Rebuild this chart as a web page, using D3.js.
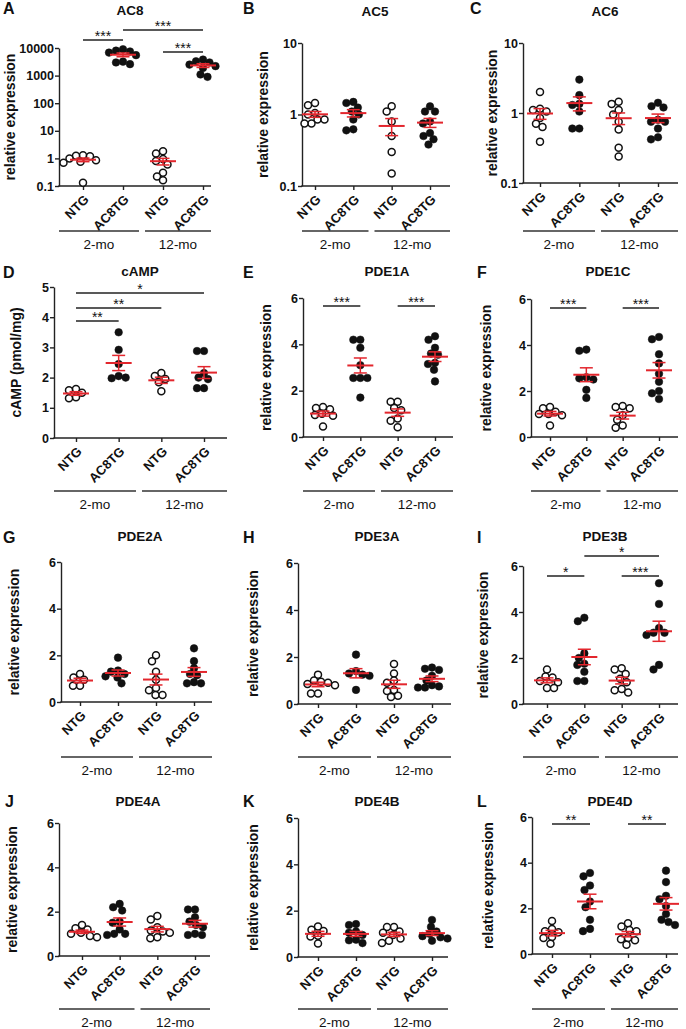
<!DOCTYPE html>
<html lang="en">
<head>
<meta charset="UTF-8">
<title>AC8TG expression panels</title>
<script src="https://cdn.jsdelivr.net/npm/d3@7"></script>
<style>
    body { margin: 0; background: #fff; }
    svg text { font-family: "Liberation Sans", Arial, sans-serif; fill: #111; }
    .letter { font-size: 16px; font-weight: bold; }
    .title { font-size: 13.5px; font-weight: bold; text-anchor: middle; }
    .ylab { font-size: 14px; font-weight: bold; text-anchor: middle; }
    .tick text { font-size: 12.5px; font-weight: bold; }
    .xaxis .tick text { font-size: 13px; }
    .age { font-size: 13.5px; text-anchor: middle; }
    .star { font-size: 14px; text-anchor: middle; }
</style>
</head>
<body>
<svg id="fig" width="686" height="1029"></svg>
<script>
    // categories
    const groups = ["NTG", "AC8TG", "NTG", "AC8TG"];
    const ages = ["2-mo", "12-mo"];

    // each panel: [NTG 2-mo, AC8TG 2-mo, NTG 12-mo, AC8TG 12-mo]
    const AC8 = [
        [1.3, 1.25, 1.2, 1.0, 0.85, 0.75, 0.7, 0.13],
        [9000, 8000, 7500, 6800, 5500, 3200, 3000, 2600],
        [1.8, 1.5, 0.95, 0.8, 0.6, 0.3, 0.22, 0.16],
        [3800, 3300, 3000, 2500, 2200, 1900, 1100, 900]
    ];
    const AC5 = [
        [1.45, 1.35, 1.05, 1.0, 0.85, 0.85, 0.75, 0.75],
        [1.5, 1.45, 1.25, 1.1, 1.0, 0.85, 0.62, 0.6],
        [1.3, 1.1, 0.8, 0.5, 0.3, 0.15],
        [1.3, 1.1, 1.1, 0.8, 0.75, 0.55, 0.5, 0.45, 0.38]
    ];
    const AC6 = [
        [2.0, 1.15, 1.1, 1.05, 0.85, 0.7, 0.63, 0.39],
        [3.0, 1.8, 1.35, 1.3, 1.05, 0.6, 0.6],
        [1.45, 1.35, 1.1, 0.95, 0.75, 0.58, 0.32, 0.24],
        [1.4, 1.25, 1.2, 0.8, 0.75, 0.75, 0.6, 0.45, 0.42]
    ];
    const cAMP = [
        [1.62, 1.58, 1.5, 1.35, 1.32],
        [3.5, 2.92, 2.45, 2.05, 1.98, 2.0],
        [2.15, 2.05, 1.95, 1.85, 1.55],
        [2.88, 2.88, 2.15, 2.0, 1.95, 1.65, 1.65]
    ];
    const PDE1A = [
        [1.3, 1.25, 1.2, 1.0, 0.95, 0.92, 0.45],
        [4.2, 4.2, 3.85, 3.1, 2.55, 2.55, 2.55, 1.7],
        [1.52, 1.52, 1.25, 1.15, 0.8, 0.7, 0.42],
        [4.35, 4.2, 3.85, 3.6, 3.55, 3.2, 3.15, 2.9, 2.4]
    ];
    const PDE1C = [
        [1.3, 1.25, 1.1, 1.0, 1.0, 0.95, 0.5],
        [3.8, 3.75, 2.6, 2.55, 2.5, 2.05, 1.7],
        [1.35, 1.3, 1.25, 0.95, 0.75, 0.5, 0.4],
        [4.35, 4.25, 3.6, 3.2, 2.75, 2.4, 2.0, 1.9, 1.65]
    ];
    const PDE2A = [
        [1.2, 1.05, 0.95, 0.7, 0.7],
        [1.9, 1.35, 1.3, 1.2, 1.1, 1.05, 0.8],
        [2.0, 1.75, 1.3, 0.95, 0.6, 0.5, 0.3, 0.3],
        [2.3, 1.75, 1.45, 1.2, 1.15, 0.85, 0.8, 0.8]
    ];
    const PDE3A = [
        [1.25, 1.0, 0.95, 0.9, 0.85, 0.8, 0.45, 0.45],
        [2.1, 1.4, 1.3, 1.25, 1.2, 0.6],
        [1.7, 1.3, 1.0, 0.9, 0.6, 0.55, 0.35, 0.3],
        [1.55, 1.5, 1.45, 1.2, 1.0, 0.8, 0.75, 0.7, 0.7]
    ];
    const PDE3B = [
        [1.5, 1.2, 1.15, 1.0, 0.95, 0.7, 0.7],
        [3.75, 3.6, 2.2, 2.0, 1.75, 1.7, 1.4, 1.0, 1.0],
        [1.55, 1.5, 1.3, 1.1, 0.95, 0.65, 0.6, 0.5],
        [5.25, 4.35, 3.3, 3.1, 3.1, 3.0, 1.7, 1.5]
    ];
    const PDE4A = [
        [1.4, 1.25, 1.2, 1.05, 1.0, 0.9, 0.85],
        [2.35, 2.2, 2.05, 1.55, 1.5, 1.2, 1.0, 1.0, 0.95],
        [1.8, 1.65, 1.3, 1.15, 1.1, 1.05, 0.85, 0.8],
        [2.1, 2.1, 1.75, 1.55, 1.4, 1.3, 1.0, 0.95, 0.95]
    ];
    const PDE4B = [
        [1.32, 1.18, 1.12, 0.92, 0.88, 0.58],
        [1.42, 1.38, 1.1, 1.05, 0.95, 0.75, 0.72, 0.6],
        [1.3, 1.3, 1.1, 1.05, 0.95, 0.8, 0.7, 0.6],
        [1.6, 1.3, 1.1, 1.0, 0.9, 0.85, 0.8, 0.7]
    ];
    const PDE4D = [
        [1.45, 1.1, 1.0, 0.95, 0.75, 0.7, 0.45],
        [3.55, 3.4, 3.0, 2.8, 2.3, 2.05, 1.5, 1.1, 1.0],
        [1.35, 1.2, 1.05, 1.0, 0.7, 0.65, 0.6, 0.4],
        [3.65, 3.15, 2.55, 2.4, 2.1, 1.75, 1.5, 1.4, 1.27]
    ];

    // significance: [from group, to group, label]
    const AC8_sig = [[0, 1, "***"], [1, 3, "***"], [2, 3, "***"]];
    const cAMP_sig = [[0, 1, "**"], [0, 2, "**"], [0, 3, "*"]];
    const PDE1A_sig = [[0, 1, "***"], [2, 3, "***"]];
    const PDE1C_sig = [[0, 1, "***"], [2, 3, "***"]];
    const PDE3B_sig = [[0, 1, "*"], [2, 3, "***"], [1, 3, "*"]];
    const PDE4D_sig = [[0, 1, "**"], [2, 3, "**"]];

    const logTicks = [0.1, 1, 10, 100, 1000, 10000];
    const relTicks = [0, 2, 4, 6];
    const campTicks = [0, 1, 2, 3, 4, 5];

    const REL = "relative expression";

    // layout, pixel geometry of each panel
    const panels = [
        {letter: "A", name: "AC8", values: AC8, sig: AC8_sig, sigY: [40, 30, 52], log: true, domain: [0.1, 10000], ticks: logTicks,
         label: REL, x0: 59, x1: 211, c0: 83, c3: 203, yTop: 48, yBot: 186, tx: 130, ty: 15, lx: 3, ly: 14, yl: 10, gy: 231},
        {letter: "B", name: "AC5", values: AC5, sig: [], log: true, domain: [0.1, 10], ticks: logTicks,
         label: REL, x0: 302, x1: 450, c0: 315, c3: 430, yTop: 43, yBot: 186, tx: 375, ty: 16, lx: 243, ly: 14, yl: 263, gy: 231},
        {letter: "C", name: "AC6", values: AC6, sig: [], log: true, domain: [0.1, 10], ticks: logTicks,
         label: REL, x0: 523, x1: 678, c0: 540, c3: 658, yTop: 43, yBot: 183, tx: 605, ty: 16, lx: 470, ly: 14, yl: 492, gy: 231},
        {letter: "D", name: "cAMP", values: cAMP, sig: cAMP_sig, sigY: [321, 308, 293], log: false, domain: [0, 5], ticks: campTicks,
         label: "cAMP (pmol/mg)", x0: 54, x1: 227, c0: 76, c3: 204, yTop: 287, yBot: 438, tx: 140, ty: 276, lx: 3, ly: 278, yl: 16, gy: 491},
        {letter: "E", name: "PDE1A", values: PDE1A, sig: PDE1A_sig, sigY: [306, 306], log: false, domain: [0, 6], ticks: relTicks,
         label: REL, x0: 303, x1: 453, c0: 323, c3: 435, yTop: 298, yBot: 437, tx: 387, ty: 276, lx: 243, ly: 278, yl: 266, gy: 491},
        {letter: "F", name: "PDE1C", values: PDE1C, sig: PDE1C_sig, sigY: [308, 308], log: false, domain: [0, 6], ticks: relTicks,
         label: REL, x0: 531, x1: 678, c0: 550, c3: 659, yTop: 299, yBot: 437, tx: 608, ty: 276, lx: 477, ly: 278, yl: 486, gy: 491},
        {letter: "G", name: "PDE2A", values: PDE2A, sig: [], log: false, domain: [0, 6], ticks: relTicks,
         label: REL, x0: 61, x1: 212, c0: 80, c3: 194, yTop: 562, yBot: 702, tx: 140, ty: 541, lx: 3, ly: 543, yl: 14, gy: 757},
        {letter: "H", name: "PDE3A", values: PDE3A, sig: [], log: false, domain: [0, 6], ticks: relTicks,
         label: REL, x0: 298, x1: 451, c0: 318, c3: 432, yTop: 563, yBot: 704, tx: 377, ty: 541, lx: 243, ly: 543, yl: 253, gy: 757},
        {letter: "I", name: "PDE3B", values: PDE3B, sig: PDE3B_sig, sigY: [576, 576, 556], log: false, domain: [0, 6], ticks: relTicks,
         label: REL, x0: 523, x1: 678, c0: 547, c3: 659, yTop: 566, yBot: 704, tx: 605, ty: 541, lx: 477, ly: 543, yl: 483, gy: 757},
        {letter: "J", name: "PDE4A", values: PDE4A, sig: [], log: false, domain: [0, 6], ticks: relTicks,
         label: REL, x0: 59, x1: 210, c0: 82, c3: 195, yTop: 823, yBot: 956, tx: 138, ty: 806, lx: 5, ly: 807, yl: 12, gy: 1009},
        {letter: "K", name: "PDE4B", values: PDE4B, sig: [], log: false, domain: [0, 6], ticks: relTicks,
         label: REL, x0: 298, x1: 448, c0: 318, c3: 432, yTop: 818, yBot: 957, tx: 377, ty: 806, lx: 243, ly: 807, yl: 253, gy: 1009},
        {letter: "L", name: "PDE4D", values: PDE4D, sig: PDE4D_sig, sigY: [824, 824], log: false, domain: [0, 6], ticks: relTicks,
         label: REL, x0: 532, x1: 678, c0: 552, c3: 666, yTop: 817, yBot: 954, tx: 610, ty: 806, lx: 477, ly: 807, yl: 488, gy: 1009}
    ];

    const RED = "#e3262d";
    const R = 3.8;

    const svg = d3.select("#fig");
    svg.append("rect").attr("width", 686).attr("height", 1029).attr("fill", "#fff");

    // spread points of one group sideways so they don't overlap too much
    function swarm(ys) {
        const placed = [];
        const minD = 2 * R - 0.6;
        ys.forEach(y => {
            let off = 0;
            for (let k = 0; k < 200; k++) {
                const cand = (k % 2 === 0 ? 1 : -1) * Math.ceil(k / 2) * 0.5;
                const hit = placed.some(p => Math.hypot(p.dx - cand, p.y - y) < minD);
                if (!hit) { off = cand; break; }
            }
            placed.push({dx: off, y: y});
        });
        return placed;
    }

    panels.forEach(p => {
        const g = svg.append("g");
        const x = d3.scalePoint().domain([0, 1, 2, 3]).range([p.c0, p.c3]);
        const y = p.log
            ? d3.scaleLog().domain(p.domain).range([p.yBot, p.yTop])
            : d3.scaleLinear().domain(p.domain).range([p.yBot, p.yTop]);
        const ticks = p.ticks.filter(t => t >= p.domain[0] && t <= p.domain[1]);

        g.append("text").attr("class", "letter").attr("x", p.lx).attr("y", p.ly).text(p.letter);
        g.append("text").attr("class", "title").attr("x", p.tx).attr("y", p.ty).text(p.name);
        g.append("text").attr("class", "ylab")
            .attr("transform", `translate(${p.yl},${(p.yTop + p.yBot) / 2}) rotate(-90)`)
            .attr("dy", "0.35em").text(p.label);

        // y axis
        const ya = g.append("g").attr("transform", `translate(${p.x0},0)`)
            .call(d3.axisLeft(y).tickValues(ticks).tickSize(4).tickSizeOuter(0).tickPadding(1)
                .tickFormat(d => String(d)));
        ya.select(".domain").attr("stroke", "#222").attr("stroke-width", 1.4);
        ya.selectAll(".tick line").attr("stroke", "#222").attr("stroke-width", 1.4);

        // x axis
        const xa = g.append("g").attr("class", "xaxis").attr("transform", `translate(0,${p.yBot})`)
            .call(d3.axisBottom(x).tickSize(4).tickSizeOuter(0).tickFormat(i => groups[i]));
        xa.select(".domain").remove();
        xa.selectAll(".tick line").attr("stroke", "#222").attr("stroke-width", 1.4);
        xa.selectAll(".tick text")
            .attr("x", 0).attr("y", 0).attr("dy", "0.35em")
            .attr("text-anchor", "end")
            .attr("transform", "translate(3,11) rotate(-45)");
        g.append("line").attr("x1", p.x0 - 0.7).attr("x2", p.x1).attr("y1", p.yBot).attr("y2", p.yBot)
            .attr("stroke", "#222").attr("stroke-width", 1.4);

        // age groups
        const mid = (x(1) + x(2)) / 2;
        const spans = [[p.x0, mid - 4], [mid + 2, p.x1]];
        spans.forEach((s, i) => {
            g.append("line").attr("x1", s[0]).attr("x2", s[1]).attr("y1", p.gy).attr("y2", p.gy)
                .attr("stroke", "#333").attr("stroke-width", 1.3);
            g.append("text").attr("class", "age").attr("x", (s[0] + s[1]) / 2).attr("y", p.gy + 18).text(ages[i]);
        });

        // points, mean and SEM
        p.values.forEach((vals, i) => {
            const cx = x(i);
            const pts = swarm(vals.map(v => y(v)));
            g.append("g").selectAll("circle").data(pts).join("circle")
                .attr("cx", d => cx + d.dx).attr("cy", d => d.y).attr("r", i % 2 === 0 ? R - 0.3 : R)
                .attr("fill", i % 2 === 0 ? "#fff" : "#111")
                .attr("stroke", "#111").attr("stroke-width", i % 2 === 0 ? 1.5 : 0.5);

            const m = d3.mean(vals);
            const sem = d3.deviation(vals) / Math.sqrt(vals.length);
            const lo = y(Math.max(m - sem, p.domain[0])), hi = y(m + sem);
            const eg = g.append("g").attr("stroke", RED);
            eg.append("line").attr("x1", cx).attr("x2", cx).attr("y1", lo).attr("y2", hi).attr("stroke-width", 1.5);
            [lo, hi].forEach(v => eg.append("line").attr("x1", cx - 6.5).attr("x2", cx + 6.5)
                .attr("y1", v).attr("y2", v).attr("stroke-width", 1.5));
            eg.append("line").attr("x1", cx - 13).attr("x2", cx + 13).attr("y1", y(m)).attr("y2", y(m))
                .attr("stroke-width", 2);
        });

        // significance brackets
        p.sig.forEach((s, k) => {
            const yy = p.sigY[k];
            g.append("line").attr("x1", x(s[0])).attr("x2", x(s[1])).attr("y1", yy).attr("y2", yy)
                .attr("stroke", "#222").attr("stroke-width", 1.3);
            g.append("text").attr("class", "star").attr("x", (x(s[0]) + x(s[1])) / 2).attr("y", yy + 1).text(s[2]);
        });
    });
</script>
</body>
</html>
